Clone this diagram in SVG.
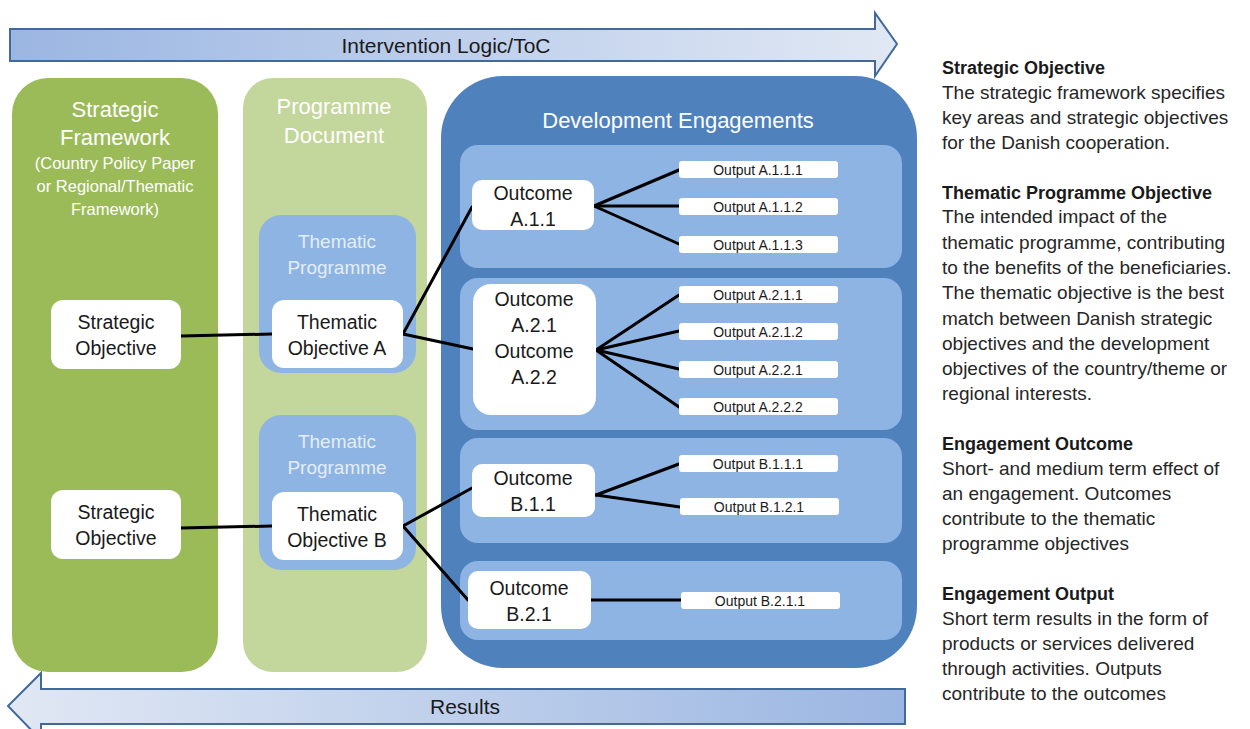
<svg xmlns="http://www.w3.org/2000/svg" width="1250" height="729" viewBox="0 0 1250 729">
  <defs>
    <linearGradient id="gradFwd" x1="0" y1="0" x2="1" y2="0">
      <stop offset="0" stop-color="#9bb6e2"/>
      <stop offset="1" stop-color="#e1e8f4"/>
    </linearGradient>
    <linearGradient id="gradBack" x1="0" y1="0" x2="1" y2="0">
      <stop offset="0" stop-color="#e1e8f4"/>
      <stop offset="1" stop-color="#9bb6e2"/>
    </linearGradient>
  </defs>
  <style>
    text { font-family: "Liberation Sans", Arial, sans-serif; }
    .arrow { stroke: #41699a; stroke-width: 2; }
    .arrow-text { fill: #1a1a1a; text-anchor: middle; font-size: 21px; }
    .panel-title { fill: #ffffff; text-anchor: middle; font-size: 22px; }
    .sub-title { fill: #ffffff; text-anchor: middle; font-size: 16.5px; }
    .tp-title { fill: #e4edf8; text-anchor: middle; font-size: 19px; }
    .box { fill: #ffffff; }
    .box-text { fill: #1a1a1a; text-anchor: middle; font-size: 19.5px; }
    .out-text { fill: #1a1a1a; text-anchor: middle; font-size: 14px; }
    .link { stroke: #000000; stroke-width: 3; fill: none; stroke-linecap: round; }
    .legend { fill: #262626; font-size: 19px; }
    .legend-head { fill: #1a1a1a; font-size: 18px; font-weight: bold; }
  </style>

  <rect width="1250" height="729" fill="#ffffff"/>

  <!-- Direction arrows -->
  <g id="arrow-intervention">
    <path class="arrow" fill="url(#gradFwd)" d="M10,29 H875 V13 L897,44 L875,76 V61 H10 Z"/>
    <text class="arrow-text" x="446" y="53">Intervention Logic/ToC</text>
  </g>
  <g id="arrow-results">
    <path class="arrow" fill="url(#gradBack)" d="M905,689 H41 V673 L8,706 L41,740 V724 H905 Z"/>
    <text class="arrow-text" x="465" y="714">Results</text>
  </g>

  <!-- Column panels -->
  <g id="panel-strategic-framework">
    <rect x="12" y="78" width="206" height="594" rx="36" fill="#9bbb59"/>
    <text class="panel-title" x="115" y="117">Strategic</text>
    <text class="panel-title" x="115" y="145">Framework</text>
    <text class="sub-title" x="115" y="169">(Country Policy Paper</text>
    <text class="sub-title" x="115" y="192">or Regional/Thematic</text>
    <text class="sub-title" x="115" y="215">Framework)</text>
  </g>
  <g id="panel-programme-document">
    <rect x="243" y="78" width="184" height="594" rx="30" fill="#c3d69b"/>
    <text class="panel-title" x="334" y="114">Programme</text>
    <text class="panel-title" x="334" y="143">Document</text>
  </g>
  <g id="panel-development-engagements">
    <rect x="441" y="76" width="476" height="592" rx="62" fill="#4f81bd"/>
    <text class="panel-title" x="678" y="128">Development Engagements</text>
  </g>

  <!-- Thematic programme containers -->
  <g id="thematic-programme-a">
    <rect x="259" y="215" width="157" height="158" rx="22" fill="#8eb4e3"/>
    <text class="tp-title" x="337" y="248">Thematic</text>
    <text class="tp-title" x="337" y="274">Programme</text>
  </g>
  <g id="thematic-programme-b">
    <rect x="259" y="415" width="157" height="155" rx="22" fill="#8eb4e3"/>
    <text class="tp-title" x="337" y="448">Thematic</text>
    <text class="tp-title" x="337" y="474">Programme</text>
  </g>

  <!-- Engagement containers -->
  <g id="engagement-a1">
    <rect x="460" y="145" width="442" height="123" rx="18" fill="#8eb4e3"/>
  </g>
  <g id="engagement-a2">
    <rect x="460" y="278" width="442" height="152" rx="18" fill="#8eb4e3"/>
  </g>
  <g id="engagement-b1">
    <rect x="460" y="438" width="442" height="105" rx="18" fill="#8eb4e3"/>
  </g>
  <g id="engagement-b2">
    <rect x="460" y="561" width="442" height="79" rx="18" fill="#8eb4e3"/>
  </g>

  <!-- Connectors -->
  <g id="connectors">
    <line class="link" x1="181" y1="336" x2="272" y2="334"/>
    <line class="link" x1="181" y1="528" x2="272" y2="526"/>
    <line class="link" x1="403" y1="334" x2="472" y2="207"/>
    <line class="link" x1="403" y1="334" x2="473" y2="349"/>
    <line class="link" x1="403" y1="526" x2="472" y2="488"/>
    <line class="link" x1="403" y1="526" x2="468" y2="600"/>
    <line class="link" x1="594" y1="206" x2="679" y2="170"/>
    <line class="link" x1="594" y1="206" x2="679" y2="206"/>
    <line class="link" x1="594" y1="206" x2="679" y2="244"/>
    <line class="link" x1="596" y1="350" x2="679" y2="295"/>
    <line class="link" x1="596" y1="350" x2="679" y2="331"/>
    <line class="link" x1="596" y1="350" x2="679" y2="369"/>
    <line class="link" x1="596" y1="350" x2="679" y2="407"/>
    <line class="link" x1="596" y1="495" x2="679" y2="464"/>
    <line class="link" x1="596" y1="495" x2="680" y2="507"/>
    <line class="link" x1="591" y1="600" x2="681" y2="600"/>
  </g>

  <!-- Strategic objectives -->
  <g id="strategic-objective-1">
    <rect class="box" x="51" y="300" width="130" height="69" rx="12"/>
    <text class="box-text" x="116" y="329">Strategic</text>
    <text class="box-text" x="116" y="355">Objective</text>
  </g>
  <g id="strategic-objective-2">
    <rect class="box" x="51" y="490" width="130" height="69" rx="12"/>
    <text class="box-text" x="116" y="519">Strategic</text>
    <text class="box-text" x="116" y="545">Objective</text>
  </g>

  <!-- Thematic objectives -->
  <g id="thematic-objective-a">
    <rect class="box" x="272" y="300" width="131" height="68" rx="12"/>
    <text class="box-text" x="337" y="329">Thematic</text>
    <text class="box-text" x="337" y="355">Objective A</text>
  </g>
  <g id="thematic-objective-b">
    <rect class="box" x="272" y="492" width="131" height="68" rx="12"/>
    <text class="box-text" x="337" y="521">Thematic</text>
    <text class="box-text" x="337" y="547">Objective B</text>
  </g>

  <!-- Outcomes -->
  <g id="outcome-a11">
    <rect class="box" x="472" y="180" width="122" height="50" rx="10"/>
    <text class="box-text" x="533" y="200">Outcome</text>
    <text class="box-text" x="533" y="226">A.1.1</text>
  </g>
  <g id="outcome-a21-a22">
    <rect class="box" x="473" y="284" width="123" height="131" rx="18"/>
    <text class="box-text" x="534" y="306">Outcome</text>
    <text class="box-text" x="534" y="332">A.2.1</text>
    <text class="box-text" x="534" y="358">Outcome</text>
    <text class="box-text" x="534" y="384">A.2.2</text>
  </g>
  <g id="outcome-b11">
    <rect class="box" x="472" y="464" width="123" height="53" rx="10"/>
    <text class="box-text" x="533" y="485">Outcome</text>
    <text class="box-text" x="533" y="511">B.1.1</text>
  </g>
  <g id="outcome-b21">
    <rect class="box" x="468" y="571" width="123" height="58" rx="10"/>
    <text class="box-text" x="529" y="595">Outcome</text>
    <text class="box-text" x="529" y="621">B.2.1</text>
  </g>

  <!-- Outputs -->
  <g id="output-a111"><rect class="box" x="679" y="161" width="159" height="17" rx="3"/><text class="out-text" x="758" y="175">Output A.1.1.1</text></g>
  <g id="output-a112"><rect class="box" x="679" y="198" width="159" height="17" rx="3"/><text class="out-text" x="758" y="212">Output A.1.1.2</text></g>
  <g id="output-a113"><rect class="box" x="679" y="236" width="159" height="17" rx="3"/><text class="out-text" x="758" y="250">Output A.1.1.3</text></g>
  <g id="output-a211"><rect class="box" x="679" y="286" width="159" height="17" rx="3"/><text class="out-text" x="758" y="300">Output A.2.1.1</text></g>
  <g id="output-a212"><rect class="box" x="679" y="323" width="159" height="17" rx="3"/><text class="out-text" x="758" y="337">Output A.2.1.2</text></g>
  <g id="output-a221"><rect class="box" x="679" y="361" width="159" height="17" rx="3"/><text class="out-text" x="758" y="375">Output A.2.2.1</text></g>
  <g id="output-a222"><rect class="box" x="679" y="398" width="159" height="17" rx="3"/><text class="out-text" x="758" y="412">Output A.2.2.2</text></g>
  <g id="output-b111"><rect class="box" x="679" y="455" width="159" height="17" rx="3"/><text class="out-text" x="758" y="469">Output B.1.1.1</text></g>
  <g id="output-b121"><rect class="box" x="680" y="498" width="159" height="17" rx="3"/><text class="out-text" x="759" y="512">Output B.1.2.1</text></g>
  <g id="output-b211"><rect class="box" x="681" y="592" width="159" height="17" rx="3"/><text class="out-text" x="760" y="606">Output B.2.1.1</text></g>

  <!-- Legend -->
  <g id="legend">
    <text class="legend-head" x="942" y="74">Strategic Objective</text>
    <text class="legend" x="942" y="99">The strategic framework specifies</text>
    <text class="legend" x="942" y="124">key areas and strategic objectives</text>
    <text class="legend" x="942" y="149">for the Danish cooperation.</text>
    <text class="legend-head" x="942" y="199">Thematic Programme Objective</text>
    <text class="legend" x="942" y="223">The intended impact of the</text>
    <text class="legend" x="942" y="249">thematic programme, contributing</text>
    <text class="legend" x="942" y="274">to the benefits of the beneficiaries.</text>
    <text class="legend" x="942" y="299">The thematic objective is the best</text>
    <text class="legend" x="942" y="325">match between Danish strategic</text>
    <text class="legend" x="942" y="350">objectives and the development</text>
    <text class="legend" x="942" y="375">objectives of the country/theme or</text>
    <text class="legend" x="942" y="400">regional interests.</text>
    <text class="legend-head" x="942" y="450">Engagement Outcome</text>
    <text class="legend" x="942" y="475">Short- and medium term effect of</text>
    <text class="legend" x="942" y="500">an engagement. Outcomes</text>
    <text class="legend" x="942" y="525">contribute to the thematic</text>
    <text class="legend" x="942" y="550">programme objectives</text>
    <text class="legend-head" x="942" y="600">Engagement Output</text>
    <text class="legend" x="942" y="625">Short term results in the form of</text>
    <text class="legend" x="942" y="650">products or services delivered</text>
    <text class="legend" x="942" y="675">through activities. Outputs</text>
    <text class="legend" x="942" y="700">contribute to the outcomes</text>
  </g>
</svg>
